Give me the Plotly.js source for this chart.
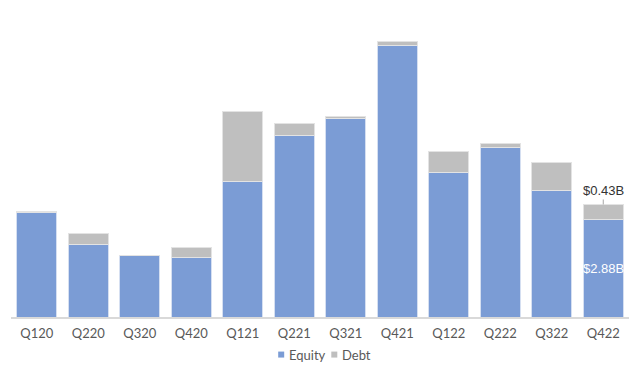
<!DOCTYPE html>
<html>
<head>
<meta charset="utf-8">
<script src="https://cdn.plot.ly/plotly-3.0.1.min.js"></script>
<style>html,body{margin:0;padding:0;background:#fff;}#chart{width:640px;height:372px;}</style>
</head>
<body>
<div id="chart"></div>
<script>
const quarters = ['Q120','Q220','Q320','Q420','Q121','Q221','Q321','Q421','Q122','Q222','Q322','Q422'];
const equity = [3.07, 2.12, 1.80, 1.74, 3.98, 5.33, 5.85, 8.00, 4.24, 4.98, 3.72, 2.88];
const debt   = [0.02, 0.33, 0.01, 0.30, 2.06, 0.37, 0.05, 0.09, 0.62, 0.11, 0.82, 0.43];
const seriesNames = ['Equity', 'Debt'];
const seriesColors = ['#7b9cd5', '#bfbfbf'];
const lastLabelEquity = '$2.88B';
const lastLabelDebt = '$0.43B';

const n = quarters.length - 1;
const traces = [
  {type:'bar', name:seriesNames[0], x:quarters, y:equity, showlegend:false,
   marker:{color:seriesColors[0], line:{color:'#d5dff1', width:1}}, hoverinfo:'none'},
  {type:'bar', name:seriesNames[1], x:quarters, y:debt, showlegend:false,
   marker:{color:seriesColors[1], line:{color:'#e3e3e3', width:1}}, hoverinfo:'none'}
];

// custom compact legend (symbol right next to the label, as in the reference)
const legendShapes = [];
const legendAnn = [];
const legendX = [276.7, 331.7];
seriesNames.forEach((nm, i) => {
  const x0 = legendX[i] / 640;
  legendShapes.push({type:'rect', xref:'paper', yref:'paper', xsizemode:'pixel', ysizemode:'pixel',
    xanchor:x0, yanchor:-0.13, x0:0, x1:6, y0:-3, y1:3,
    fillcolor:seriesColors[i], line:{width:0}});
  legendAnn.push({xref:'paper', yref:'paper', x:x0, xshift:9, y:-0.13, yshift:0,
    xanchor:'left', yanchor:'middle', text:nm, showarrow:false,
    font:{size:13, color:'#595959'}});
});

const labelFont = '"Liberation Sans", Arial, sans-serif';
const layout = {
  width:640, height:372,
  barmode:'stack', bargap:0.23,
  margin:{l:11, r:11, t:28, b:55, autoexpand:false},
  paper_bgcolor:'#fff', plot_bgcolor:'#fff',
  font:{family:'Lato, sans-serif', size:13, color:'#595959'},
  xaxis:{showline:true, linecolor:'#d9d9d9', linewidth:2, ticks:'', showgrid:false,
         automargin:false, ticklabelstandoff:3, tickfont:{size:13, color:'#595959'}},
  yaxis:{range:[0,8.5], visible:false, showgrid:false, zeroline:false, automargin:false},
  showlegend:false,
  shapes:legendShapes,
  annotations:[
    {x:quarters[n], y:equity[n]+debt[n], text:lastLabelDebt, showarrow:true, arrowhead:0,
     arrowwidth:1, arrowcolor:'#a6a6a6', ax:0, ay:-14, font:{family:labelFont, size:13, color:'#333333'}},
    {x:quarters[n], y:equity[n]*0.5, text:lastLabelEquity, showarrow:false,
     font:{family:labelFont, size:13, color:'#ffffff'}}
  ].concat(legendAnn)
};
Plotly.newPlot('chart', traces, layout, {displayModeBar:false, staticPlot:true});
</script>
</body>
</html>
